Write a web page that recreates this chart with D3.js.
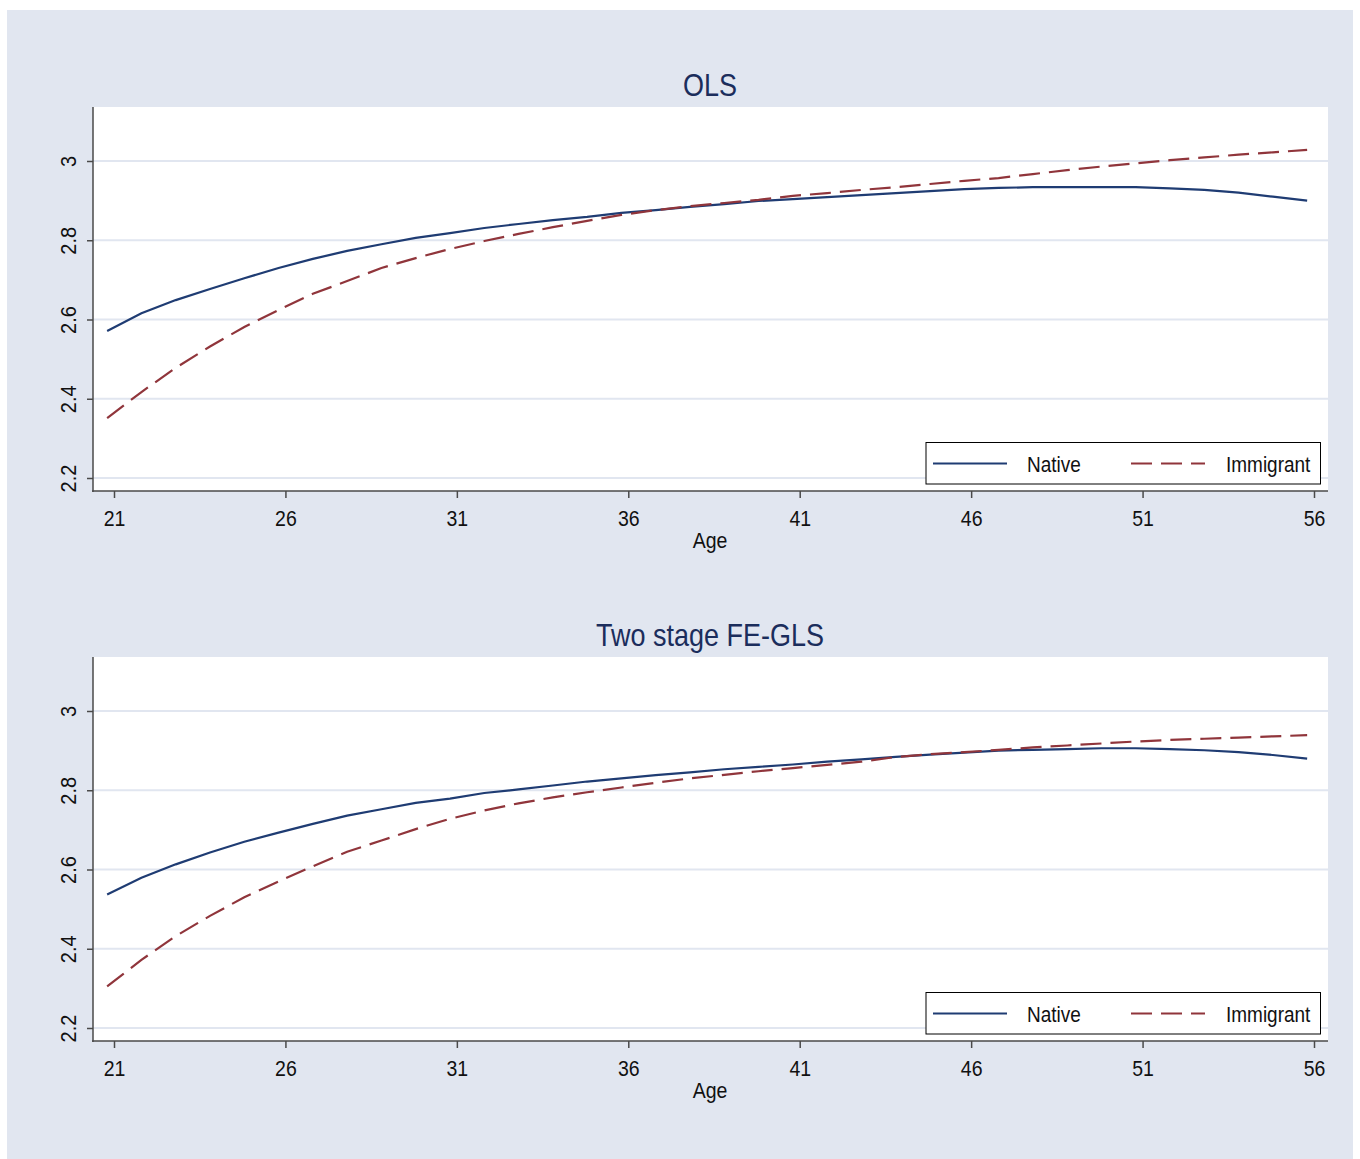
<!DOCTYPE html>
<html>
<head>
<meta charset="utf-8">
<title>Age profiles</title>
<script src="https://cdn.jsdelivr.net/npm/d3@7/dist/d3.min.js"></script>
<style>
    body { margin: 0; background: #ffffff; }
    text { font-family: "Liberation Sans", Arial, sans-serif; }
</style>
</head>
<body>
<div id="graph"></div>
<script>
/*-------------------- Données -------------------*/

var ages = [20.8, 21.8, 22.8, 23.8, 24.8, 25.8, 26.8, 27.8, 28.8, 29.8,
            30.8, 31.8, 32.8, 33.8, 34.8, 35.8, 36.8, 37.8, 38.8, 39.8,
            40.8, 41.8, 42.8, 43.8, 44.8, 45.8, 46.8, 47.8, 48.8, 49.8,
            50.8, 51.8, 52.8, 53.8, 54.8, 55.8];

var olsNative = [2.571, 2.616, 2.649, 2.677, 2.704, 2.730, 2.753, 2.773, 2.790, 2.806,
                 2.818, 2.831, 2.841, 2.851, 2.859, 2.869, 2.876, 2.884, 2.891, 2.899,
                 2.904, 2.909, 2.914, 2.919, 2.924, 2.929, 2.932, 2.934, 2.934, 2.934,
                 2.934, 2.931, 2.927, 2.920, 2.910, 2.900];

var olsImmigrant = [2.351, 2.417, 2.478, 2.532, 2.581, 2.624, 2.665, 2.697, 2.730, 2.755,
                    2.778, 2.798, 2.816, 2.833, 2.849, 2.864, 2.876, 2.886, 2.894, 2.902,
                    2.912, 2.919, 2.927, 2.934, 2.942, 2.950, 2.957, 2.967, 2.977, 2.986,
                    2.994, 3.002, 3.009, 3.016, 3.022, 3.028];

var glsNative = [2.537, 2.579, 2.613, 2.643, 2.670, 2.693, 2.715, 2.736, 2.752, 2.768,
                 2.779, 2.793, 2.802, 2.812, 2.822, 2.830, 2.838, 2.845, 2.853, 2.859,
                 2.865, 2.872, 2.878, 2.884, 2.890, 2.895, 2.900, 2.902, 2.904, 2.906,
                 2.906, 2.904, 2.901, 2.896, 2.889, 2.880];

var glsImmigrant = [2.305, 2.372, 2.432, 2.483, 2.530, 2.570, 2.608, 2.645, 2.673, 2.702,
                    2.728, 2.749, 2.767, 2.782, 2.795, 2.807, 2.819, 2.830, 2.839, 2.848,
                    2.856, 2.864, 2.872, 2.884, 2.891, 2.896, 2.902, 2.908, 2.913, 2.918,
                    2.923, 2.927, 2.930, 2.933, 2.936, 2.939];

var xTicks = [21, 26, 31, 36, 41, 46, 51, 56];
var yTicks = [2.2, 2.4, 2.6, 2.8, 3];
var panelTitles = ["OLS", "Two stage FE-GLS"];
var seriesNames = ["Native", "Immigrant"];
var xLabel = "Age";

/*-------------------- Mise en page -------------------*/

var width = 1360, height = 1159;
var navy = "#1f3c73", maroon = "#90353b", titleColor = "#1b2d5c";
var bgColor = "#e1e6f0", gridColor = "#e1e6f0", axisColor = "#4a4a4a";
var panelShift = 550;

var svg = d3.select("#graph").append("svg")
    .attr("width", width)
    .attr("height", height);

svg.append("rect")
    .attr("x", 7).attr("y", 10)
    .attr("width", 1346).attr("height", 1149)
    .style("fill", bgColor);

var xScale = d3.scaleLinear().domain([21, 56]).range([114, 1314]);
var yScale = d3.scaleLinear().domain([2.2, 3]).range([478, 161]);

function drawPanel(index, nativeVals, immigrantVals) {
    var g = svg.append("g")
        .attr("transform", "translate(0," + (index * panelShift) + ")");

    // white plot region
    g.append("rect")
        .attr("x", 93).attr("y", 107)
        .attr("width", 1235).attr("height", 384)
        .style("fill", "#ffffff");

    g.selectAll(".grid")
        .data(yTicks)
        .enter()
        .append("line")
        .attr("class", "grid")
        .attr("x1", 93).attr("x2", 1328)
        .attr("y1", d => yScale(d)).attr("y2", d => yScale(d))
        .style("stroke", gridColor)
        .style("stroke-width", 2);

    // title
    g.append("text")
        .attr("transform", "translate(710,96) scale(1,1.15)")
        .style("text-anchor", "middle")
        .style("font-size", "27px")
        .style("fill", titleColor)
        .text(panelTitles[index]);

    // y axis
    var yAxis = g.append("g")
        .attr("transform", "translate(93,0)")
        .call(d3.axisLeft(yScale).tickValues(yTicks).tickSize(6).tickFormat(d => String(d)));
    yAxis.select(".domain").remove();
    yAxis.selectAll("line").style("stroke", axisColor).style("stroke-width", 1.5);
    yAxis.selectAll("text")
        .attr("x", null).attr("dy", null)
        .attr("transform", "translate(-17,0) rotate(-90) scale(1,1.12)")
        .style("text-anchor", "middle")
        .style("font-size", "20px")
        .style("font-family", "'Liberation Sans', Arial, sans-serif")
        .style("fill", "#111");

    // x axis
    var xAxis = g.append("g")
        .attr("transform", "translate(0,491)")
        .call(d3.axisBottom(xScale).tickValues(xTicks).tickSize(7).tickFormat(d => String(d)));
    xAxis.select(".domain").remove();
    xAxis.selectAll("line").style("stroke", axisColor).style("stroke-width", 1.5);
    xAxis.selectAll("text")
        .attr("y", null).attr("dy", null)
        .attr("transform", "translate(0,35) scale(1,1.12)")
        .style("font-size", "19.5px")
        .style("font-family", "'Liberation Sans', Arial, sans-serif")
        .style("fill", "#111");

    g.append("line")
        .attr("x1", 93).attr("x2", 93).attr("y1", 107).attr("y2", 492)
        .style("stroke", axisColor).style("stroke-width", 1.5);
    g.append("line")
        .attr("x1", 92).attr("x2", 1328).attr("y1", 491).attr("y2", 491)
        .style("stroke", axisColor).style("stroke-width", 1.5);

    g.append("text")
        .attr("transform", "translate(710,548) scale(1,1.12)")
        .style("text-anchor", "middle")
        .style("font-size", "19.5px")
        .style("fill", "#111")
        .text(xLabel);

    // the two curves
    var line = d3.line()
        .x((d, i) => xScale(ages[i]))
        .y(d => yScale(d));

    g.append("path")
        .datum(nativeVals)
        .attr("d", line)
        .style("fill", "none")
        .style("stroke", navy)
        .style("stroke-width", 2.2);

    g.append("path")
        .datum(immigrantVals)
        .attr("d", line)
        .style("fill", "none")
        .style("stroke", maroon)
        .style("stroke-width", 2.2)
        .style("stroke-dasharray", "21,9");

    // legend
    var legend = g.append("g").attr("class", "legend");
    legend.append("rect")
        .attr("x", 926).attr("y", 442.5)
        .attr("width", 394.5).attr("height", 41.5)
        .style("fill", "#ffffff")
        .style("stroke", "#000")
        .style("stroke-width", 1);

    var entries = [
        {name: seriesNames[0], color: navy, dash: null, x: 933, tx: 1027},
        {name: seriesNames[1], color: maroon, dash: "21,9", x: 1131, tx: 1226}
    ];
    entries.forEach(function(e) {
        legend.append("line")
            .attr("x1", e.x).attr("x2", e.x + 74)
            .attr("y1", 463.5).attr("y2", 463.5)
            .style("stroke", e.color)
            .style("stroke-width", 2)
            .style("stroke-dasharray", e.dash);
        legend.append("text")
            .attr("transform", "translate(" + e.tx + ",471.5) scale(1,1.12)")
            .style("font-size", "19px")
            .style("fill", "#111")
            .text(e.name);
    });
}

drawPanel(0, olsNative, olsImmigrant);
drawPanel(1, glsNative, glsImmigrant);
</script>
</body>
</html>
